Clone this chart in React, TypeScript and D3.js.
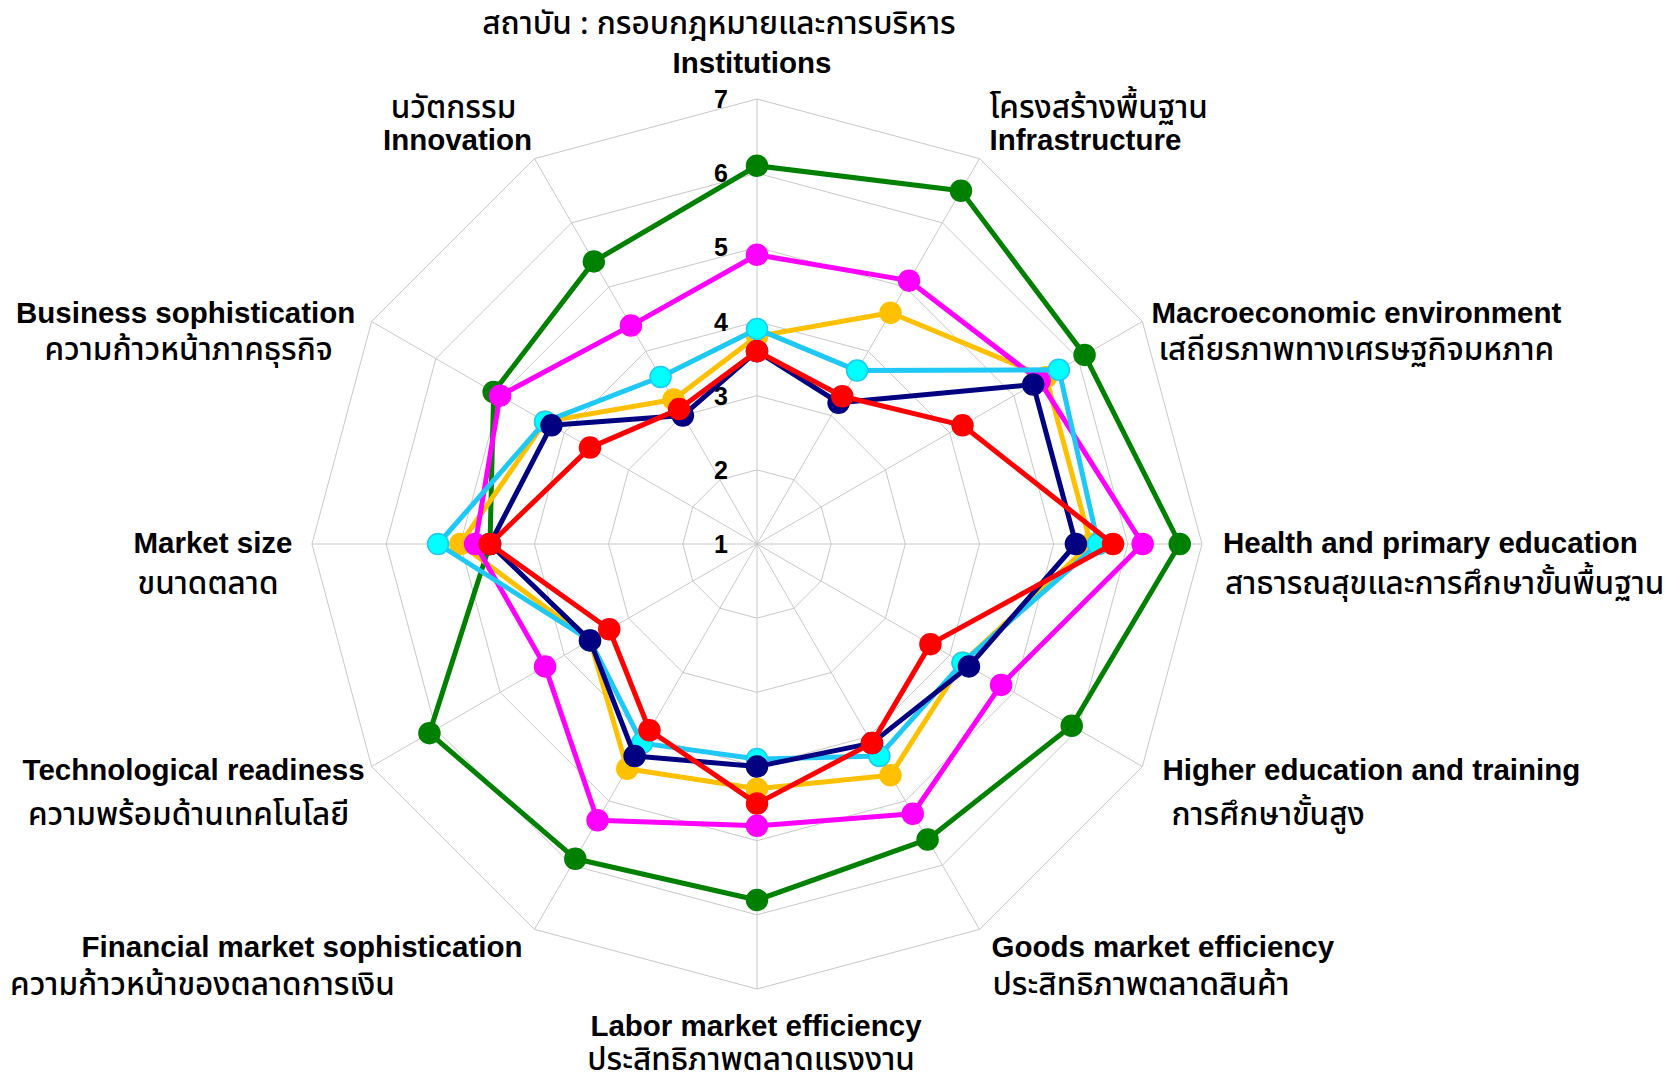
import React, { useRef, useEffect } from 'react';
import * as d3 from 'd3';

// Axis names, clockwise from the top
const categoriesEn = [
  'Institutions',
  'Infrastructure',
  'Macroeconomic environment',
  'Health and primary education',
  'Higher education and training',
  'Goods market efficiency',
  'Labor market efficiency',
  'Financial market sophistication',
  'Technological readiness',
  'Market size',
  'Business sophistication',
  'Innovation',
];

const categoriesTh = [
  'สถาบัน : กรอบกฎหมายและการบริหาร',
  'โครงสร้างพื้นฐาน',
  'เสถียรภาพทางเศรษฐกิจมหภาค',
  'สาธารณสุขและการศึกษาขั้นพื้นฐาน',
  'การศึกษาขั้นสูง',
  'ประสิทธิภาพตลาดสินค้า',
  'ประสิทธิภาพตลาดแรงงาน',
  'ความก้าวหน้าของตลาดการเงิน',
  'ความพร้อมด้านเทคโนโลยี',
  'ขนาดตลาด',
  'ความก้าวหน้าภาคธุรกิจ',
  'นวัตกรรม',
];

const tickValues = [1, 2, 3, 4, 5, 6, 7];

// Series values (score 1-7), same order as the categories
const greenValues = [6.1, 6.5, 6.1, 6.7, 5.9, 5.6, 5.8, 5.9, 6.1, 4.6, 5.1, 5.4];
const goldValues = [3.8, 4.6, 5.5, 5.5, 4.2, 4.6, 4.3, 4.5, 3.6, 5.0, 4.3, 3.25];
const magentaValues = [4.9, 5.1, 5.4, 6.2, 4.8, 5.2, 4.8, 5.3, 4.3, 4.8, 5.0, 4.4];
const cyanValues = [3.9, 3.7, 5.7, 5.6, 4.2, 4.3, 3.9, 4.1, 3.6, 5.3, 4.3, 3.6];
const navyValues = [3.6, 3.2, 5.3, 5.3, 4.3, 4.1, 4.0, 4.3, 3.6, 4.6, 4.2, 3.0];
const redValues = [3.6, 3.3, 4.2, 5.8, 3.7, 4.1, 4.5, 3.9, 3.3, 4.6, 3.6, 3.1];

const series = [
  { values: greenValues, stroke: '#008000', fill: '#008000' },
  { values: goldValues, stroke: '#FFC000', fill: '#FFC000' },
  { values: magentaValues, stroke: '#FF00FF', fill: '#FF00FF' },
  { values: cyanValues, stroke: '#1FC8F5', fill: '#00FFFF' },
  { values: navyValues, stroke: '#000080', fill: '#000080' },
  { values: redValues, stroke: '#FF0000', fill: '#FF0000' },
];

// Label placement relative to the tip of each axis: [anchor, dx, dy] for Thai and English lines
const labelLayout: { th: [string, number, number]; en: [string, number, number] }[] = [
  { th: ['middle', -38, -65], en: ['middle', -5, -26] },
  { th: ['start', 10, -41], en: ['start', 10, -9] },
  { th: ['middle', 214, 38], en: ['middle', 214, 1] },
  { th: ['start', 23, 50], en: ['start', 21, 9] },
  { th: ['start', 29, 58], en: ['start', 20, 13] },
  { th: ['start', 13, 66], en: ['start', 12, 28] },
  { th: ['middle', -6, 81], en: ['middle', -1, 47] },
  { th: ['middle', -332, 66], en: ['end', -12, 28] },
  { th: ['middle', -183, 58], en: ['middle', -178, 13] },
  { th: ['middle', -104, 50], en: ['middle', -99, 9] },
  { th: ['middle', -183, 38], en: ['middle', -186, 1] },
  { th: ['middle', -81, -41], en: ['middle', -77, -9] },
];

const WIDTH = 1675;
const HEIGHT = 1080;
const CX = 757;
const CY = 544;
const RADIUS = 445;

const EN_FONT = '"Liberation Sans", Arial, Helvetica, sans-serif';
const TH_FONT = '"Noto Sans Thai", "Noto Sans Thai UI", Tahoma, "DejaVu Sans", sans-serif';

const RadarChart: React.FC = () => {
  const svgRef = useRef<SVGSVGElement>(null);

  useEffect(() => {
    if (!svgRef.current) return;
    const svg = d3.select(svgRef.current);
    svg.selectAll('*').remove();

    const n = categoriesEn.length;
    const step = (2 * Math.PI) / n;
    const r = d3.scaleLinear().domain([1, 7]).range([0, RADIUS]);

    const g = svg.append('g').attr('transform', `translate(${CX},${CY})`);

    const point = (i: number, v: number): [number, number] => {
      const a = i * step;
      return [Math.sin(a) * r(v), -Math.cos(a) * r(v)];
    };

    // Grid polygons
    const ring = d3
      .lineRadial<number>()
      .angle((_, i) => i * step)
      .radius((d) => r(d))
      .curve(d3.curveLinearClosed);

    tickValues.slice(1).forEach((t) => {
      g.append('path')
        .datum(d3.range(n).map(() => t))
        .attr('d', ring)
        .attr('fill', 'none')
        .attr('stroke', '#c8c8c8')
        .attr('stroke-width', 1);
    });

    // Spokes
    categoriesEn.forEach((_, i) => {
      const [x, y] = point(i, 7);
      g.append('line')
        .attr('x1', 0)
        .attr('y1', 0)
        .attr('x2', x)
        .attr('y2', y)
        .attr('stroke', '#c8c8c8')
        .attr('stroke-width', 1);
    });

    // Tick labels along the top axis
    tickValues.forEach((t) => {
      g.append('text')
        .attr('x', -29)
        .attr('y', -r(t))
        .attr('dy', '0.36em')
        .attr('text-anchor', 'end')
        .attr('font-family', EN_FONT)
        .attr('font-weight', 'bold')
        .attr('font-size', 25)
        .attr('fill', '#000')
        .text(t);
    });

    // Series
    series.forEach((s) => {
      g.append('path')
        .datum(s.values)
        .attr('d', ring)
        .attr('fill', 'none')
        .attr('stroke', s.stroke)
        .attr('stroke-width', 5)
        .attr('stroke-linejoin', 'round');

      g.selectAll(null)
        .data(s.values)
        .enter()
        .append('circle')
        .attr('cx', (d, i) => point(i, d)[0])
        .attr('cy', (d, i) => point(i, d)[1])
        .attr('r', 10.5)
        .attr('fill', s.fill)
        .attr('stroke', s.stroke)
        .attr('stroke-width', 1.5);
    });

    // Category labels
    categoriesEn.forEach((name, i) => {
      const [x, y] = point(i, 7);
      const lay = labelLayout[i];
      g.append('text')
        .attr('x', x + lay.en[1])
        .attr('y', y + lay.en[2])
        .attr('text-anchor', lay.en[0])
        .attr('font-family', EN_FONT)
        .attr('font-weight', 'bold')
        .attr('font-size', 29.5)
        .attr('fill', '#000')
        .text(name);
      g.append('text')
        .attr('x', x + lay.th[1])
        .attr('y', y + lay.th[2])
        .attr('text-anchor', lay.th[0])
        .attr('font-family', TH_FONT)
        .attr('font-weight', 500)
        .attr('font-size', 31.5)
        .attr('fill', '#000')
        .text(categoriesTh[i]);
    });
  }, []);

  return (
    <svg
      ref={svgRef}
      width={WIDTH}
      height={HEIGHT}
      style={{ position: 'absolute', left: 0, top: 0, background: '#fff' }}
    />
  );
};

export default function App() {
  return <RadarChart />;
}
